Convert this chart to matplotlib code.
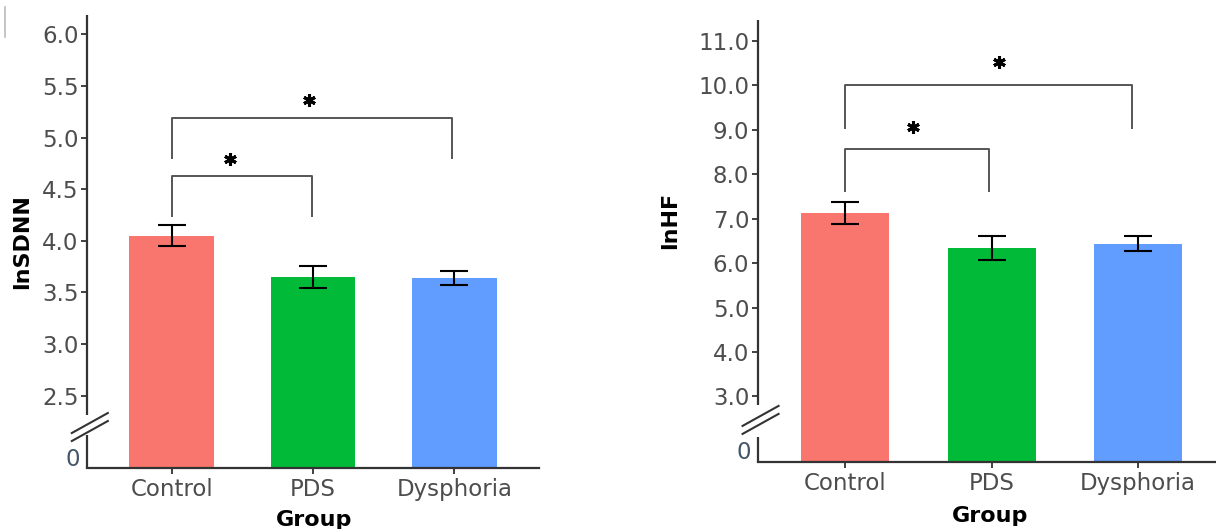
import numpy as np
import matplotlib
matplotlib.use('Agg')
import matplotlib.pyplot as plt
from matplotlib.lines import Line2D

plt.rcParams['font.family'] = ['DejaVu Sans']

groups = ['Control', 'PDS', 'Dysphoria']
bar_colors = ['#F8766D', '#00BA38', '#619CFF']

# lnSDNN panel
sdnn_mean = [4.05, 3.65, 3.64]
sdnn_err = [0.10, 0.105, 0.065]
sdnn_ticks = [2.5, 3.0, 3.5, 4.0, 4.5, 5.0, 5.5, 6.0]
# brackets: (left x, right x, bar height, leg end, star x, star y)
sdnn_brackets = [(0, 0.99, 4.63, 4.24, 0.41, 4.79),
                 (0, 1.98, 5.19, 4.80, 0.97, 5.36)]

# lnHF panel
hf_mean = [7.13, 6.33, 6.44]
hf_err = [0.25, 0.27, 0.165]
hf_ticks = [3.0, 4.0, 5.0, 6.0, 7.0, 8.0, 9.0, 10.0, 11.0]
hf_brackets = [(0, 0.98, 8.56, 7.63, 0.46, 9.06),
               (0, 1.96, 10.0, 9.04, 1.05, 10.52)]

AXC = '#333333'
TXC = '#4D4D4D'
FS = 16.5
LFS = 16


def panel(ax, mean, err, ticks, brackets, ylim, xlim, brk, zero_y, label,
          ylab_xy, xlab_xy):
    ybot, ytop = ylim
    x = np.arange(len(groups))
    ax.bar(x, np.array(mean) - ybot, bottom=ybot, width=0.6,
           color=bar_colors, zorder=2)
    ax.errorbar(x, mean, yerr=err, fmt='none', ecolor='black',
                elinewidth=1.5, capsize=10, capthick=1.5, zorder=3)
    for x1, x2, yb, yl, sx, sy in brackets:
        ax.plot([x1, x1, x2, x2], [yl, yb, yb, yl], color='#555555',
                lw=1.4, zorder=3)
        ax.plot(sx, sy, marker=(6, 2, 0), ms=9, mew=2.2, color='black',
                zorder=4)
    ax.set_xlim(*xlim)
    ax.set_ylim(ybot, ytop)
    ax.set_yticks(ticks)
    ax.set_yticklabels(['%.1f' % t for t in ticks])
    ax.set_xticks(x)
    ax.set_xticklabels(groups)
    ax.tick_params(axis='both', colors=AXC, labelcolor=TXC, labelsize=FS,
                   length=4, width=1.3)
    ax.tick_params(axis='x', pad=3)
    ax.tick_params(axis='y', pad=2)
    for s in ['top', 'right', 'left']:
        ax.spines[s].set_visible(False)
    ax.spines['bottom'].set_color(AXC)
    ax.spines['bottom'].set_linewidth(1.6)

    # broken y axis line
    yt = ax.get_yaxis_transform()
    ax.plot([0, 0], [brk[0], ytop], color=AXC, lw=1.6, transform=yt,
            clip_on=False, solid_capstyle='butt')
    ax.plot([0, 0], [ybot, brk[1]], color=AXC, lw=1.6, transform=yt,
            clip_on=False, solid_capstyle='butt')
    cx, cy = yt.transform((0, brk[2]))
    cx += 3
    for off in (-4, 4):
        ax.figure.add_artist(Line2D([cx - 18, cx + 18],
                                    [cy - 10 + off, cy + 10 + off],
                                    color=AXC, lw=1.5, transform=None))
    ax.text(-0.014, zero_y, '0', transform=yt, ha='right', va='center',
            fontsize=FS, color='#44546A')

    ax.set_ylabel(label, fontsize=LFS, fontweight='bold', color='black')
    ax.yaxis.set_label_coords(*ylab_xy)
    ax.set_xlabel('Group', fontsize=LFS, fontweight='bold', color='black')
    ax.xaxis.set_label_coords(*xlab_xy)


fig = plt.figure(figsize=(12.16, 5.29), dpi=100)
ax1 = fig.add_axes([0.0714, 0.1153, 0.3721, 0.856])
ax2 = fig.add_axes([0.623, 0.1263, 0.377, 0.8355])

panel(ax1, sdnn_mean, sdnn_err, sdnn_ticks, sdnn_brackets,
      (1.80, 6.186), (-0.6, 2.6), (2.313, 2.119, 2.197), 1.88, 'lnSDNN',
      (-0.121, 0.499), (0.503, -0.092))
panel(ax2, hf_mean, hf_err, hf_ticks, hf_brackets,
      (1.518, 11.47), (-0.6, 2.533), (2.806, 2.086, 2.47), 1.745, 'lnHF',
      (-0.169, 0.546), (0.508, -0.099))

fig.add_artist(Line2D([0.004, 0.004], [0.93, 0.987], color='#bbbbbb', lw=1.2))

fig.savefig('out.png', dpi=100)
